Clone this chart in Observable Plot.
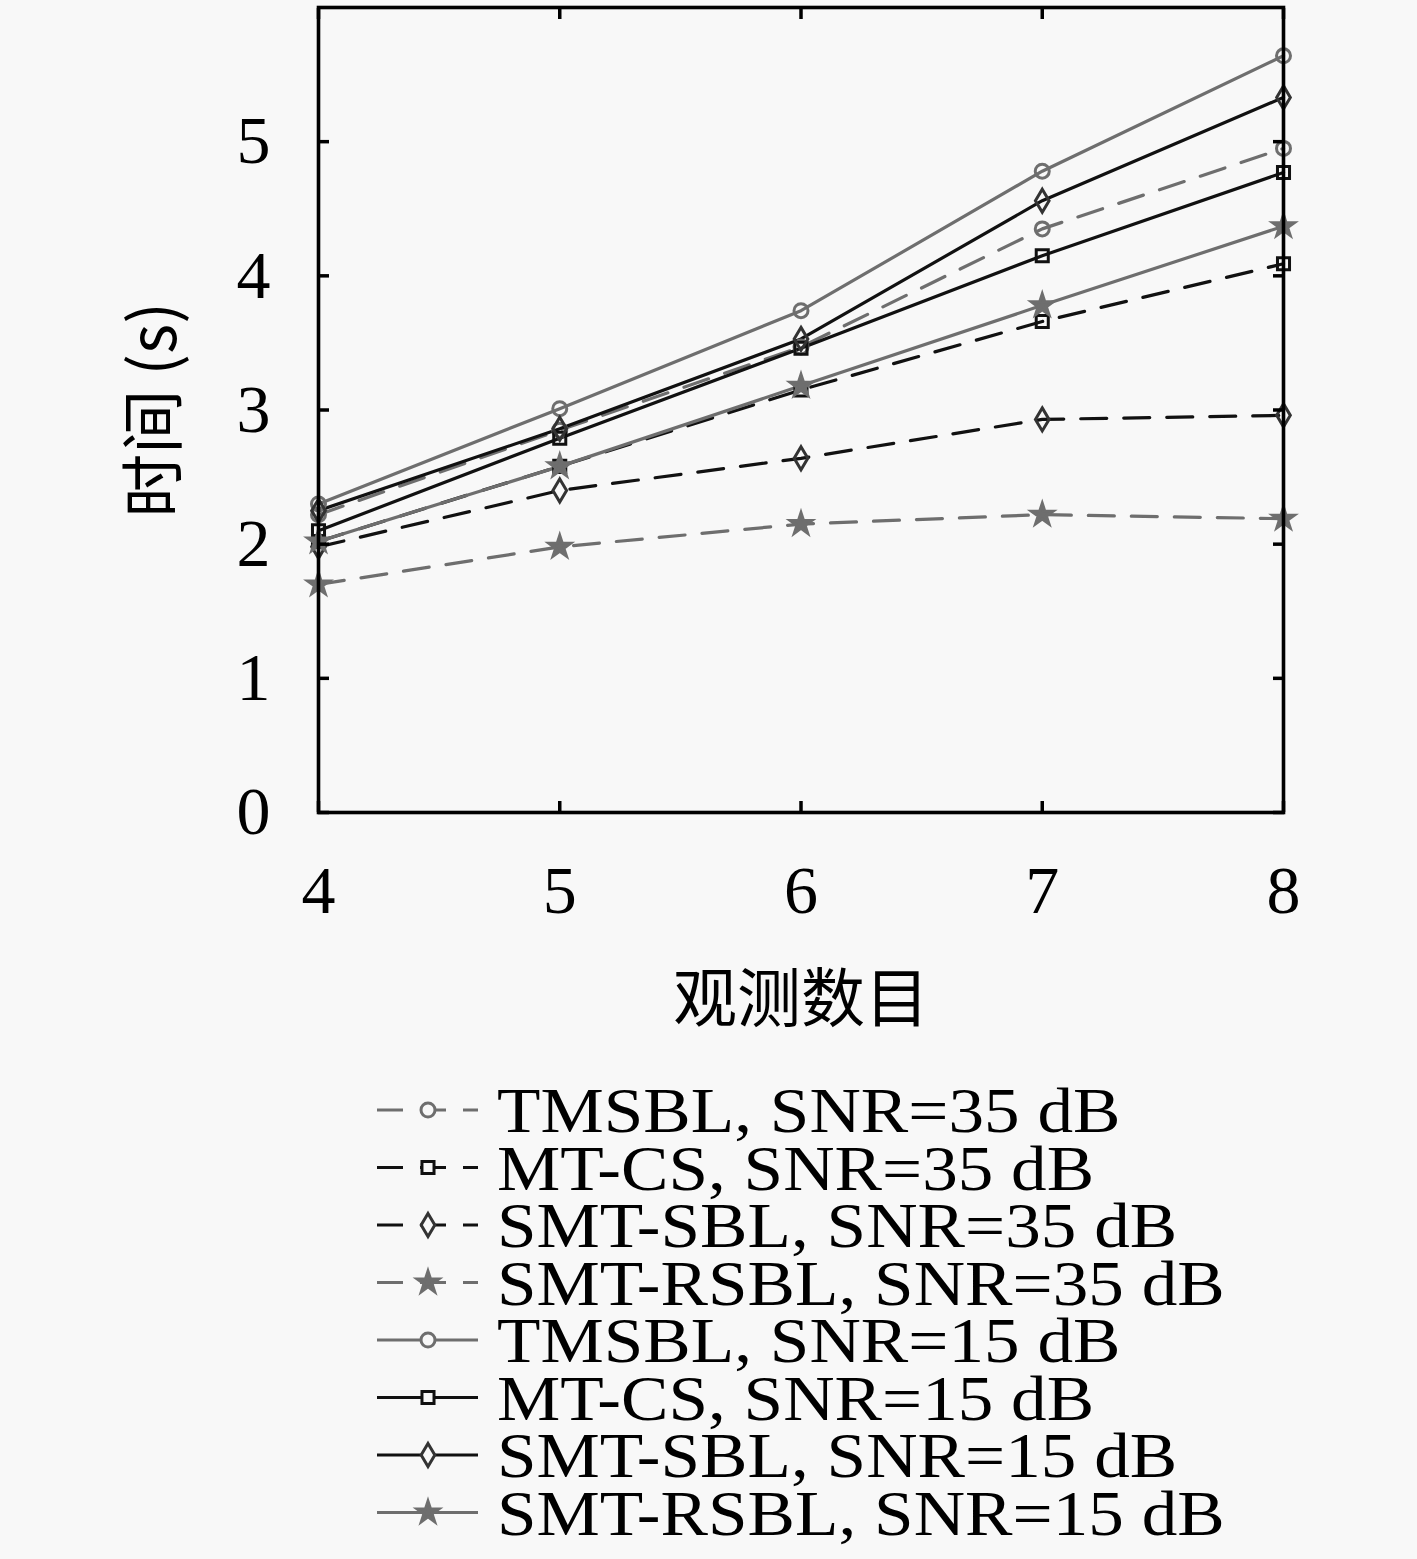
<!DOCTYPE html>
<html>
<head>
<meta charset="utf-8">
<script src="https://cdn.jsdelivr.net/npm/d3@7"></script>
<script src="https://cdn.jsdelivr.net/npm/@observablehq/plot@0.6"></script>
<style>
  html, body { margin: 0; padding: 0; background: #f8f8f8; }
  #wrap { width: 1417px; }
</style>
</head>
<body>
<div id="wrap"></div>
<script>
// ---- data ----
const xs = [4, 5, 6, 7, 8];
const yTicks = [0, 1, 2, 3, 4, 5];
const tmsbl35   = [2.22, 2.85, 3.47, 4.35, 4.95];
const mtcs35    = [2.02, 2.58, 3.15, 3.66, 4.09];
const smtsbl35  = [1.98, 2.40, 2.64, 2.93, 2.96];
const smtrsbl35 = [1.70, 1.98, 2.15, 2.22, 2.19];
const tmsbl15   = [2.30, 3.01, 3.74, 4.78, 5.64];
const mtcs15    = [2.10, 2.79, 3.46, 4.15, 4.77];
const smtsbl15  = [2.25, 2.86, 3.53, 4.56, 5.33];
const smtrsbl15 = [2.02, 2.58, 3.18, 3.78, 4.37];
const labels = [
  "TMSBL, SNR=35 dB", "MT-CS, SNR=35 dB", "SMT-SBL, SNR=35 dB", "SMT-RSBL, SNR=35 dB",
  "TMSBL, SNR=15 dB", "MT-CS, SNR=15 dB", "SMT-SBL, SNR=15 dB", "SMT-RSBL, SNR=15 dB"
];
const xLabel = "观测数目";
const yLabel = "时间 (s)";

// ---- styles ----
const GRAY = "#6e6e6e", BLACK = "#111111", DGRAY = "#333333";
const DASH = "26 17";
const tallDiamond = {
  draw(context, size) {
    const r = Math.sqrt(size / Math.PI);
    const w = r * 0.95, h = r * 1.6;
    context.moveTo(0, -h);
    context.lineTo(w, 0);
    context.lineTo(0, h);
    context.lineTo(-w, 0);
    context.closePath();
  }
};
const styles = [
  {color: GRAY,  dash: DASH, symbol: d3.symbolCircle, r: 7,   fill: "none", mstroke: GRAY},
  {color: BLACK, dash: DASH, symbol: d3.symbolSquare, r: 6.8, fill: "none", mstroke: BLACK},
  {color: BLACK, dash: DASH, symbol: tallDiamond,    r: 7.2, fill: "none", mstroke: DGRAY},
  {color: GRAY,  dash: DASH, symbol: d3.symbolStar,  r: 6.8, fill: GRAY,   mstroke: GRAY},
  {color: GRAY,  dash: null, symbol: d3.symbolCircle, r: 7,   fill: "none", mstroke: GRAY},
  {color: BLACK, dash: null, symbol: d3.symbolSquare, r: 6.8, fill: "none", mstroke: BLACK},
  {color: BLACK, dash: null, symbol: tallDiamond,    r: 7.2, fill: "none", mstroke: DGRAY},
  {color: GRAY,  dash: null, symbol: d3.symbolStar,  r: 6.8, fill: GRAY,   mstroke: GRAY}
];
const seriesValues = [tmsbl35, mtcs35, smtsbl35, smtrsbl35, tmsbl15, mtcs15, smtsbl15, smtrsbl15];
const series = seriesValues.map((vals, i) => ({
  name: labels[i],
  rows: xs.map((x, j) => ({x, y: vals[j]})),
  ...styles[i]
}));

const SERIF = "'Liberation Serif', 'DejaVu Serif', serif";
const CJK = "'Noto Sans CJK SC', sans-serif";

const marks = [];
for (const s of series) {
  marks.push(Plot.line(s.rows, {x: "x", y: "y", stroke: s.color, strokeWidth: 3.2,
    strokeDasharray: s.dash || undefined}));
}
for (const s of series) {
  marks.push(Plot.dot(s.rows, {x: "x", y: "y", symbol: s.symbol, r: s.r,
    stroke: s.mstroke, fill: s.fill, strokeWidth: 3}));
}

const chart = Plot.plot({
  width: 1417,
  height: 1060,
  marginLeft: 318,
  marginRight: 134,
  marginTop: 7,
  marginBottom: 248,
  style: {background: "#f8f8f8", fontFamily: SERIF, color: "black"},
  x: {domain: [4, 8]},
  y: {domain: [0, 6]},
  marks: [
    ...marks,
    Plot.frame({stroke: "black", strokeWidth: 3.6}),
    Plot.axisX({ticks: xs, anchor: "bottom", tickSize: 0, tickPadding: 52, fontSize: 68, label: null, tickFormat: d => String(d)}),
    Plot.axisX({ticks: xs, anchor: "bottom", tickSize: -11, strokeWidth: 3.5, label: null, tickFormat: () => ""}),
    Plot.axisX({ticks: xs, anchor: "top", tickSize: -11, strokeWidth: 3.5, label: null, tickFormat: () => ""}),
    Plot.axisY({ticks: yTicks, anchor: "left", tickSize: 0, tickPadding: 48, fontSize: 68, label: null, tickFormat: d => String(d)}),
    Plot.axisY({ticks: yTicks, anchor: "left", tickSize: -11, strokeWidth: 3.5, label: null, tickFormat: () => ""}),
    Plot.axisY({ticks: yTicks, anchor: "right", tickSize: -11, strokeWidth: 3.5, label: null, tickFormat: () => ""}),
    Plot.text([xLabel], {frameAnchor: "bottom", dy: 188, textAnchor: "middle", lineAnchor: "middle", fontSize: 64, fontFamily: CJK, fill: "black", text: d => d}),
    Plot.text([yLabel], {frameAnchor: "left", dx: -163, textAnchor: "middle", lineAnchor: "middle", rotate: -90, fontSize: 64, fontFamily: CJK, fill: "black", text: d => d})
  ]
});
document.getElementById("wrap").appendChild(chart);

// ---- legend below ----
const legH = 1559 - 1060;
const leg = d3.select("#wrap").append("svg")
  .attr("width", 1417).attr("height", legH)
  .style("display", "block").style("background", "#f8f8f8");
series.forEach((s, i) => {
  const cy = 50 + i * 57.5;
  leg.append("line")
    .attr("x1", 377).attr("x2", 478).attr("y1", cy).attr("y2", cy)
    .attr("stroke", s.color).attr("stroke-width", 3.2)
    .attr("stroke-dasharray", s.dash);
  leg.append("path")
    .attr("transform", `translate(428,${cy})`)
    .attr("d", d3.symbol(s.symbol, Math.PI * s.r * s.r)())
    .attr("fill", s.fill === "none" ? "#f8f8f8" : s.fill)
    .attr("stroke", s.mstroke).attr("stroke-width", 3);
  leg.append("text")
    .attr("transform", `translate(497,${cy}) scale(1.13,1)`)
    .attr("dy", "0.35em")
    .attr("font-family", SERIF).attr("font-size", 63)
    .attr("fill", "black")
    .text(s.name);
});
</script>
</body>
</html>
